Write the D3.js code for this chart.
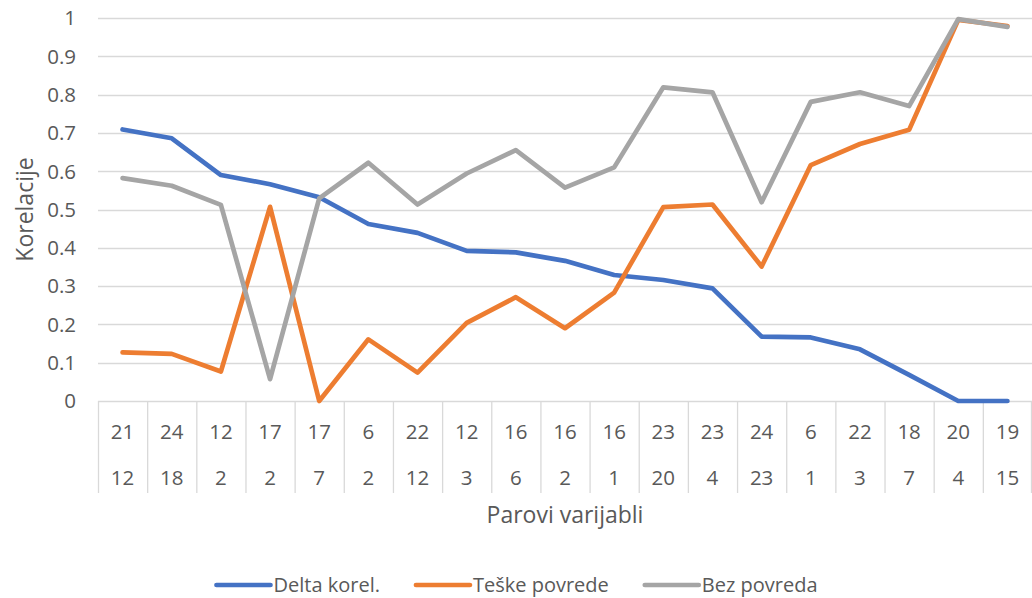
<!DOCTYPE html>
<html>
<head>
  <meta charset="utf-8">
  <script src="https://d3js.org/d3.v7.min.js"></script>
  <style>
    body { margin: 0; background: #fff; }
    text { font-family: "Open Sans", sans-serif; fill: #595959; }
  </style>
</head>
<body>
  <script type="text/javascript">
    var w = 1032;
    var h = 598;

    // category pairs (two-level axis)
    var topLabels = ["21","24","12","17","17","6","22","12","16","16","16","23","23","24","6","22","18","20","19"];
    var bottomLabels = ["12","18","2","2","7","2","12","3","6","2","1","20","4","23","1","3","7","4","15"];

    var deltaKorel = [0.709,0.686,0.590,0.566,0.532,0.462,0.439,0.392,0.388,0.366,0.329,0.316,0.294,0.168,0.166,0.135,0.068,0,0];
    var teskePovrede = [0.127,0.123,0.077,0.507,0,0.161,0.074,0.204,0.271,0.190,0.283,0.506,0.513,0.351,0.616,0.671,0.708,0.995,0.979];
    var bezPovreda = [0.582,0.562,0.512,0.057,0.529,0.622,0.513,0.594,0.655,0.557,0.610,0.819,0.806,0.519,0.781,0.806,0.770,0.997,0.977];

    var seriesNames = ["Delta korel.", "Teške povrede", "Bez povreda"];
    var seriesColors = ["#4472C4", "#ED7D31", "#A5A5A5"];
    var yTicks = [0,0.1,0.2,0.3,0.4,0.5,0.6,0.7,0.8,0.9,1];

    var plotLeft = 98, plotRight = 1032, plotTop = 18, plotBottom = 401;

    var svg = d3.select("body")
      .append("svg")
      .attr("width", w)
      .attr("height", h);

    var xScale = d3.scaleBand()
      .domain(d3.range(topLabels.length))
      .range([plotLeft, plotRight])
      .padding(0);

    var yScale = d3.scaleLinear()
      .domain([0, 1])
      .range([plotBottom, plotTop]);

    // gridlines
    svg.selectAll("line.grid")
      .data(yTicks)
      .enter()
      .append("line")
      .attr("class", "grid")
      .attr("x1", plotLeft)
      .attr("x2", plotRight)
      .attr("y1", function(d){ return Math.round(yScale(d)) + 0.5; })
      .attr("y2", function(d){ return Math.round(yScale(d)) + 0.5; })
      .attr("stroke", "#D9D9D9")
      .attr("stroke-width", 1.3);

    // y tick labels
    svg.selectAll("text.ytick")
      .data(yTicks)
      .enter()
      .append("text")
      .attr("class", "ytick")
      .attr("x", 76)
      .attr("y", function(d){ return yScale(d); })
      .attr("dy", "0.36em")
      .attr("text-anchor", "end")
      .style("font-size", "20.5px")
      .text(function(d){ return d3.format("")(d); });

    // category dividers
    var dividers = d3.range(topLabels.length + 1);
    svg.selectAll("line.div")
      .data(dividers)
      .enter()
      .append("line")
      .attr("class", "div")
      .attr("x1", function(d){ return d < topLabels.length ? xScale(d) + 0.5 : plotRight - 0.5; })
      .attr("x2", function(d){ return d < topLabels.length ? xScale(d) + 0.5 : plotRight - 0.5; })
      .attr("y1", plotBottom)
      .attr("y2", 493)
      .attr("stroke", "#D9D9D9")
      .attr("stroke-width", 1.3);

    var bw = xScale.bandwidth();

    svg.selectAll("text.xtop")
      .data(topLabels)
      .enter()
      .append("text")
      .attr("class", "xtop")
      .attr("x", function(d,i){ return xScale(i) + bw/2; })
      .attr("y", 432)
      .attr("dy", "0.36em")
      .attr("text-anchor", "middle")
      .style("font-size", "20.5px")
      .text(function(d){ return d; });

    svg.selectAll("text.xbot")
      .data(bottomLabels)
      .enter()
      .append("text")
      .attr("class", "xbot")
      .attr("x", function(d,i){ return xScale(i) + bw/2; })
      .attr("y", 478)
      .attr("dy", "0.36em")
      .attr("text-anchor", "middle")
      .style("font-size", "20.5px")
      .text(function(d){ return d; });

    // axis titles
    svg.append("text")
      .attr("x", (plotLeft + plotRight)/2)
      .attr("y", 523)
      .attr("text-anchor", "middle")
      .style("font-size", "23px")
      .text("Parovi varijabli");

    svg.append("text")
      .attr("transform", "translate(33," + (plotTop + plotBottom)/2 + ") rotate(-90)")
      .attr("text-anchor", "middle")
      .style("font-size", "23px")
      .text("Korelacije");

    // lines
    var line = d3.line()
      .x(function(d,i){ return xScale(i) + bw/2; })
      .y(function(d){ return yScale(d); });

    var allSeries = [deltaKorel, teskePovrede, bezPovreda];

    svg.selectAll("path.series")
      .data(allSeries)
      .enter()
      .append("path")
      .attr("class", "series")
      .attr("d", line)
      .attr("fill", "none")
      .attr("stroke", function(d,i){ return seriesColors[i]; })
      .attr("stroke-width", 4.7)
      .attr("stroke-linejoin", "round")
      .attr("stroke-linecap", "round");

    // legend
    var legendY = 585;
    var legend = svg.append("g");
    var lx = 0;
    seriesNames.forEach(function(name, i){
      var g = legend.append("g").attr("transform", "translate(" + lx + ",0)");
      g.append("line")
        .attr("x1", 2).attr("x2", 56)
        .attr("y1", legendY).attr("y2", legendY)
        .attr("stroke", seriesColors[i])
        .attr("stroke-width", 4.7)
        .attr("stroke-linecap", "round");
      var t = g.append("text")
        .attr("x", 59)
        .attr("y", legendY)
        .attr("dy", "0.36em")
        .style("font-size", "20px")
        .text(name);
      lx += 59 + t.node().getComputedTextLength() + 34;
    });
    var legendWidth = lx - 34;
    legend.attr("transform", "translate(" + (516 - legendWidth/2) + ",0)");
  </script>
</body>
</html>
